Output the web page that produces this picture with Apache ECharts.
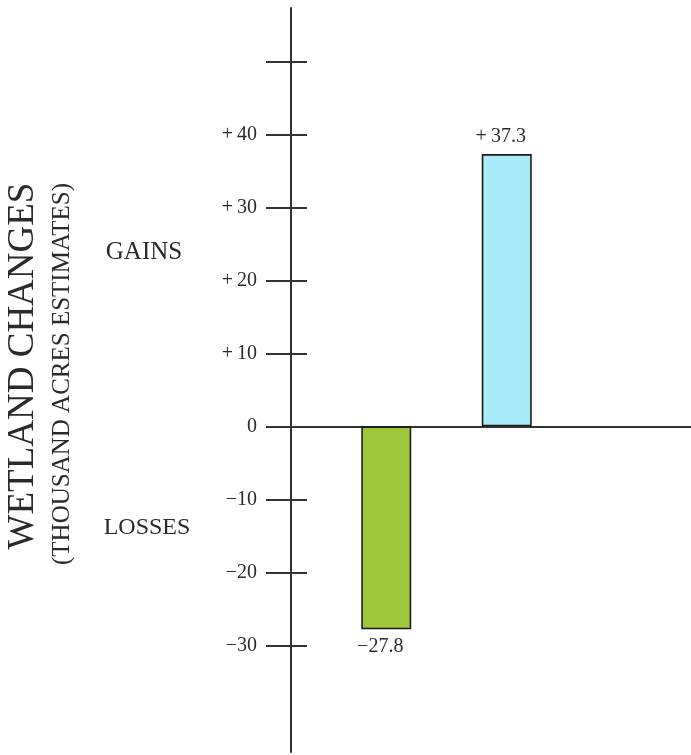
<!DOCTYPE html>
<html>
<head>
<meta charset="utf-8">
<script src="https://cdn.jsdelivr.net/npm/echarts@6/dist/echarts.min.js"></script>
<style>
  html, body { margin: 0; padding: 0; background: #ffffff; }
  #chart { width: 691px; height: 755px; }
</style>
</head>
<body>
<div id="chart"></div>
<script>
// ---- data ----
const categories = ['LOSSES', 'GAINS'];
const values = [-27.8, 37.3];
const barColors = ['#9dc83c', '#a9ebf8'];
const barLabels = ['\u221227.8', '+\u200937.3'];
const tickMarks = [-30, -20, -10, 0, 10, 20, 30, 40, 50];
const labelValues = [-30, -20, -10, 0, 10, 20, 30, 40];
const tickLabels = ['\u221230', '\u221220', '\u221210', '0', '+\u200910', '+\u200920', '+\u200930', '+\u200940'];
const axisMin = -44.6;
const axisMax = 57.3;

const FONT = '"Liberation Serif", "DejaVu Serif", serif';
const INK = '#2a2a2a';

const chart = echarts.init(document.getElementById('chart'), null, { renderer: 'canvas' });

const option = {
  backgroundColor: '#ffffff',
  animation: false,
  grid: [
    { left: 291, right: 0, top: 8, bottom: 3, containLabel: false },
    { left: 326, width: 241, top: 8, bottom: 3, containLabel: false }
  ],
  xAxis: [
    {
      gridIndex: 0, type: 'category', data: [''],
      axisLine: { show: true, onZero: true, onZeroAxisIndex: 0, lineStyle: { color: '#333', width: 2 } },
      axisTick: { show: false }, axisLabel: { show: false }, splitLine: { show: false }
    },
    {
      gridIndex: 1, type: 'category', data: categories,
      axisLine: { show: false }, axisTick: { show: false }, axisLabel: { show: false }, splitLine: { show: false }
    }
  ],
  yAxis: [
    {
      gridIndex: 0, type: 'value', position: 'left', min: axisMin, max: axisMax,
      axisLine: { show: true, lineStyle: { color: '#333', width: 2 } },
      axisTick: { show: true, inside: false, length: 25, customValues: tickMarks, lineStyle: { color: '#333', width: 2 } },
      axisLabel: {
        show: true, margin: 34, customValues: labelValues,
        fontFamily: FONT, fontSize: 20, color: INK,
        formatter: function (v) { const i = labelValues.indexOf(v); return i >= 0 ? tickLabels[i] : ''; }
      },
      splitLine: { show: false }
    },
    {
      gridIndex: 0, type: 'value', position: 'left', min: axisMin, max: axisMax,
      axisLine: { show: false },
      axisTick: { show: true, inside: true, length: 16, customValues: tickMarks, lineStyle: { color: '#333', width: 2 } },
      axisLabel: { show: false }, splitLine: { show: false }
    },
    {
      gridIndex: 1, type: 'value', min: axisMin, max: axisMax, show: false,
      axisLine: { show: false }, axisTick: { show: false }, axisLabel: { show: false }, splitLine: { show: false }
    }
  ],
  series: [
    {
      type: 'bar', xAxisIndex: 1, yAxisIndex: 2, barWidth: 50,
      data: values.map(function (v, i) {
        return { value: v, itemStyle: { color: barColors[i] } };
      }),
      itemStyle: { borderColor: '#1c1c1c', borderWidth: 1.6 },
      label: {
        show: true, position: 'outside', distance: 7, offset: [-6, 0],
        fontFamily: FONT, fontSize: 20, color: INK,
        formatter: function (p) { return barLabels[p.dataIndex]; }
      }
    }
  ],
  graphic: [
    {
      type: 'text', x: 23, y: 366, rotation: Math.PI / 2,
      style: { text: 'WETLAND CHANGES', fontFamily: FONT, fontSize: 37, fill: INK, align: 'center', verticalAlign: 'middle' }
    },
    {
      type: 'text', x: 62, y: 374, rotation: Math.PI / 2,
      style: { text: '(THOUSAND ACRES ESTIMATES)', fontFamily: FONT, fontSize: 25, fill: INK, align: 'center', verticalAlign: 'middle' }
    },
    {
      type: 'text', x: 144, y: 252,
      style: { text: 'GAINS', fontFamily: FONT, fontSize: 25, fill: INK, align: 'center', verticalAlign: 'middle' }
    },
    {
      type: 'text', x: 147, y: 528,
      style: { text: 'LOSSES', fontFamily: FONT, fontSize: 24, fill: INK, align: 'center', verticalAlign: 'middle' }
    }
  ]
};

chart.setOption(option);
</script>
</body>
</html>
